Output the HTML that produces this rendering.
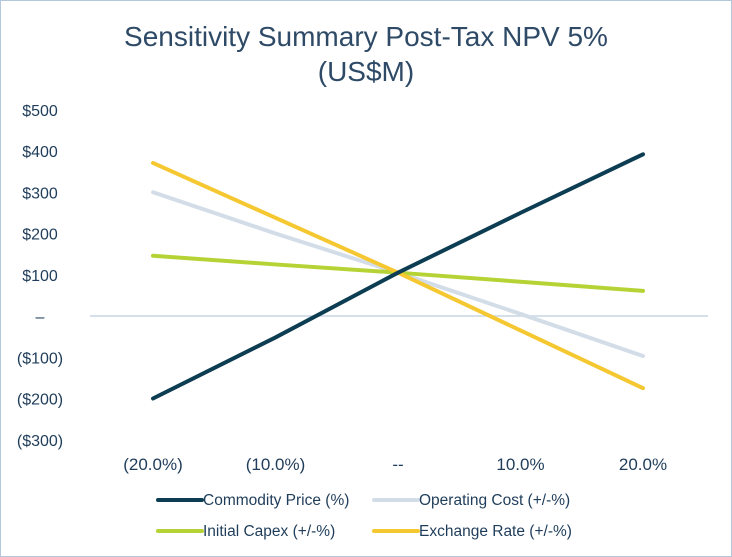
<!DOCTYPE html>
<html><head><meta charset="utf-8"><style>
html,body{margin:0;padding:0;background:#fff}
svg{display:block;font-family:"Liberation Sans",Arial,sans-serif}
</style></head><body>
<svg id="chart" width="732" height="557" viewBox="0 0 732 557">
<rect x="0.5" y="0.5" width="731" height="556" fill="#fff" stroke="#b4c7dc"/>
<text x="366" y="46" text-anchor="middle" font-size="28" fill="#2e4a66">Sensitivity Summary Post-Tax NPV 5%</text>
<text x="366" y="81" text-anchor="middle" font-size="28" fill="#2e4a66">(US$M)</text>
<g id="yaxis"></g><g id="xaxis"></g><g id="series"></g><g id="legend"></g>
</svg>
<script>
const categories=["(20.0%)","(10.0%)","--","10.0%","20.0%"];
const yTicks=[500,400,300,200,100,0,-100,-200,-300];
const yTickLabels=["$500","$400","$300","$200","$100","–","($100)","($200)","($300)"];
const seriesNames=["Commodity Price (%)","Operating Cost (+/-%)","Initial Capex (+/-%)","Exchange Rate (+/-%)"];
const commodity=[-200,-52,105,250,392];
const operating=[300,200,105,5,-97];
const capex=[146,125,105,83,61];
const exchange=[371,238,105,-35,-175];
const colors=["#0d3d52","#d3dde8","#b5d335","#f5c832"];
const NS="http://www.w3.org/2000/svg";
function y(v){return 316-v*0.4125;}
function x(i){return 153+i*122.5;}
function mk(tag,attrs,parent){const e=document.createElementNS(NS,tag);for(const k in attrs)e.setAttribute(k,attrs[k]);parent.appendChild(e);return e;}
const ya=document.getElementById('yaxis');
yTicks.forEach((v,i)=>{const t=mk('text',{x:40,y:y(v)+6,'text-anchor':'middle','font-size':16,fill:'#1f3d5a'},ya);t.textContent=yTickLabels[i];

});
const xa=document.getElementById('xaxis');
const base=mk('line',{x1:90,x2:708,y1:y(0),y2:y(0),stroke:'#c8d6e3','stroke-width':1.5},xa);


categories.forEach((c,i)=>{const t=mk('text',{x:x(i),y:470,'text-anchor':'middle','font-size':17,fill:'#1f3d5a'},xa);t.textContent=c;

});
const sg=document.getElementById('series');
const data=[operating,capex,exchange,commodity];const cidx=[1,2,3,0];
const slugs=["operating-cost-line","initial-capex-line","exchange-rate-line","commodity-price-line"];
data.forEach((d,k)=>{const p=mk('polyline',{points:d.map((v,i)=>x(i)+','+y(v)).join(' '),fill:'none',stroke:colors[cidx[k]],'stroke-width':4,'stroke-linecap':'round'},sg);

});
const lg=document.getElementById('legend');
const lpos=[[158,500],[374,500],[158,531],[374,531]];
seriesNames.forEach((n,i)=>{const g=mk('g',{},lg);


mk('line',{x1:lpos[i][0],x2:lpos[i][0]+44,y1:lpos[i][1],y2:lpos[i][1],stroke:colors[i],'stroke-width':4,'stroke-linecap':'round'},g);
const t=mk('text',{x:lpos[i][0]+45,y:lpos[i][1]+5,'font-size':15.5,fill:'#1f3d5a'},g);t.textContent=n;});
</script>
</body></html>
